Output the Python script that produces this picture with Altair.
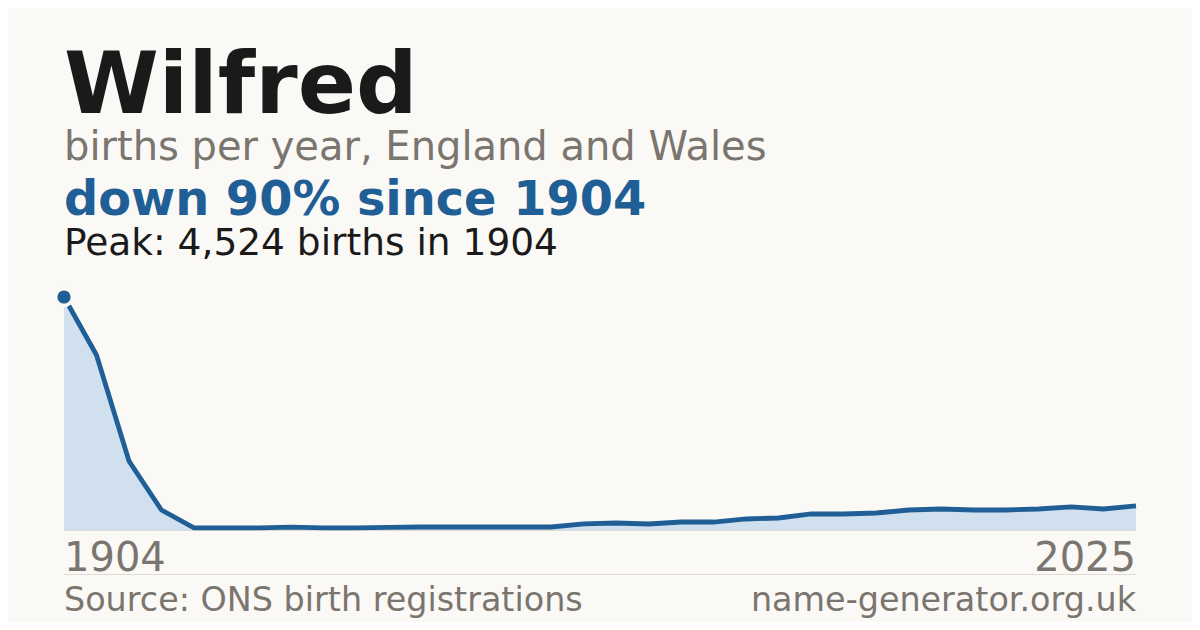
import altair as alt
import pandas as pd

# ---- data ----
years = [1904, 1914, 1924, 1934, 1944, 1954, 1964, 1974, 1984, 1994,
         2002, 2003, 2004, 2005, 2006, 2007, 2008, 2009, 2010, 2011,
         2012, 2013, 2014, 2015, 2016, 2017, 2018, 2019, 2020, 2021,
         2022, 2023, 2024, 2025]
births = [4524, 3398, 1340, 388, 40, 40, 40, 55, 40, 40,
          50, 58, 58, 58, 58, 58, 117, 136, 117, 155,
          155, 214, 233, 311, 311, 330, 388, 408, 388, 388,
          408, 447, 408, 470]

name = "Wilfred"
subtitle = "births per year, England and Wales"
headline = "down 90% since 1904"
peak_text = "Peak: 4,524 births in 1904"
first_label = "1904"
last_label = "2025"
source = "Source: ONS birth registrations"
site = "name-generator.org.uk"

df = pd.DataFrame({"year": years, "births": births})
peak_df = df[df["births"] == df["births"].max()]

BG = "#faf9f5"
BLUE = "#1f5f96"
DARK = "#1a1a1a"
GRAY = "#7a756e"
RULE = "#dedbd4"
FONT = "DejaVu Sans"

W, H = 1072, 233

xenc = alt.X("year:O", scale=alt.Scale(type="point", padding=0), axis=None)
yenc = alt.Y("births:Q", scale=alt.Scale(domain=[0, 4524], nice=False, zero=True), axis=None)

area = alt.Chart(df).mark_area(color="#d0e0ef", opacity=1).encode(x=xenc, y=yenc)
line = alt.Chart(df).mark_line(color=BLUE, strokeWidth=4.8).encode(x=xenc, y=yenc)
halo = alt.Chart(peak_df).mark_point(filled=True, shape="circle", size=420, color=BG, opacity=1).encode(x=xenc, y=yenc)
dot = alt.Chart(peak_df).mark_point(filled=True, shape="circle", size=175, color=BLUE, opacity=1).encode(x=xenc, y=yenc)

base_rule = alt.Chart(df).mark_rule(color=RULE, strokeWidth=1).encode(
    x=alt.value(0), x2=alt.value(W), y=alt.value(H + 0.5))
foot_rule = alt.Chart(df).mark_rule(color=RULE, strokeWidth=1).encode(
    x=alt.value(0), x2=alt.value(W), y=alt.value(277.5))


def txt(text, x, y, size, color, weight="normal", align="left"):
    return alt.Chart(pd.DataFrame({"t": [text]})).mark_text(
        align=align, baseline="alphabetic", font=FONT, fontSize=size,
        fontWeight=weight, color=color
    ).encode(text="t:N", x=alt.value(x), y=alt.value(y))


texts = [
    txt(name, 0, -184.3, 86, DARK, "bold"),
    txt(subtitle, 0, -137, 40, GRAY),
    txt(headline, 0, -82, 47.8, BLUE, "bold"),
    txt(peak_text, 0, -42, 37.5, DARK),
    txt(first_label, 0, 273.7, 40, GRAY),
    txt(last_label, W, 273.7, 40, GRAY, align="right"),
    txt(source, 0, 313.7, 33.4, GRAY),
    txt(site, W, 313.7, 33.4, GRAY, align="right"),
]

chart = alt.layer(area, base_rule, line, halo, dot, foot_rule, *texts).properties(
    width=W, height=H,
    autosize=alt.AutoSizeParams(type="none"),
    padding={"left": 56, "top": 289, "right": 56, "bottom": 92},
    background=BG,
).configure_view(stroke=None)

chart.save("out.html", embed_options={"renderer": "svg", "actions": False})
